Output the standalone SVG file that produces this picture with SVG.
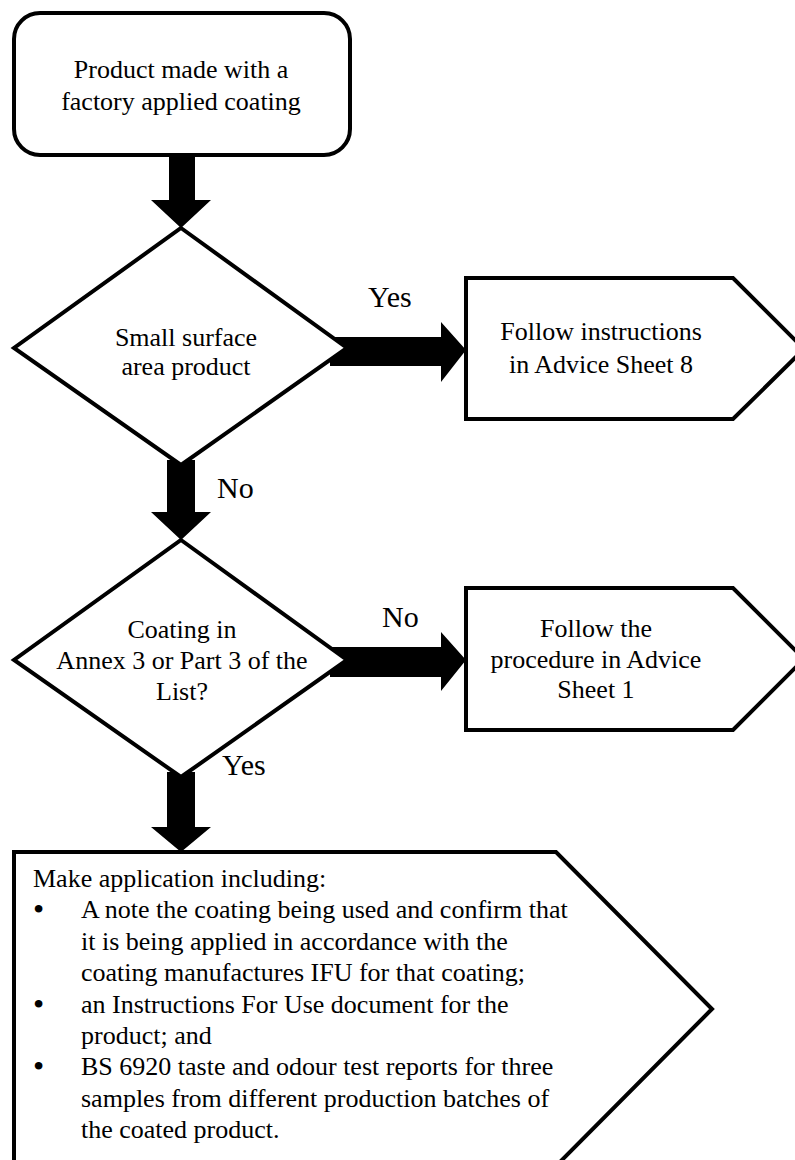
<svg xmlns="http://www.w3.org/2000/svg" width="795" height="1160" viewBox="0 0 795 1160">
<style>
.node{fill:#fff;stroke:#000;stroke-width:4;stroke-linejoin:miter}
.conn{fill:#000;stroke:none}
text{font-family:"Liberation Serif","Times New Roman",serif;font-size:26px;fill:#000}
.c{text-anchor:middle}
.lbl{font-size:30px}
.b{font-size:32px}
</style>
<rect width="795" height="1160" fill="#fff"/>
<g id="connectors">
<polygon class="conn" points="169,155 195,155 195,200 211,200 181,228 151,200 169,200"/>
<polygon class="conn" points="330,337 441,337 441,322 466,350 441,382 441,366 330,366"/>
<polygon class="conn" points="167,460 195,460 195,512 211,512 181,540 151,512 167,512"/>
<polygon class="conn" points="330,647 441,647 441,632 466,660 441,691 441,677 330,677"/>
<polygon class="conn" points="167,772 195,772 195,827 211,827 181,852 151,827 167,827"/>
</g>
<g id="start">
<rect class="node" x="14" y="13" width="336" height="142" rx="26" ry="26"/>
<text x="181" y="78" class="c">Product made with a</text>
<text x="181" y="110" class="c">factory applied coating</text>
</g>
<g id="decision1">
<polygon class="node" points="181,228 347,348 181,465 14,348"/>
<text x="186" y="346" class="c">Small surface</text>
<text x="186" y="375" class="c">area product</text>
</g>
<g id="advice8">
<polygon class="node" points="466,278 733,278 804,349 733,419 466,419"/>
<text x="601" y="340" class="c">Follow instructions</text>
<text x="601" y="373" class="c">in Advice Sheet 8</text>
</g>
<g id="decision2">
<polygon class="node" points="181,540 347,660 181,777 14,660"/>
<text x="182" y="638" class="c">Coating in</text>
<text x="182" y="669" class="c">Annex 3 or Part 3 of the</text>
<text x="182" y="700" class="c">List?</text>
</g>
<g id="advice1">
<polygon class="node" points="466,588 733,588 804,659 733,730 466,730"/>
<text x="596" y="637" class="c">Follow the</text>
<text x="596" y="668" class="c">procedure in Advice</text>
<text x="596" y="698" class="c">Sheet 1</text>
</g>
<g id="application">
<polygon class="node" points="14,852 556,852 712,1009 556,1166 14,1166"/>
<text x="33" y="887">Make application including:</text>
<text x="33" y="920" class="b">•</text>
<text x="81" y="918">A note the coating being used and confirm that</text>
<text x="81" y="950">it is being applied in accordance with the</text>
<text x="81" y="981">coating manufactures IFU for that coating;</text>
<text x="33" y="1015" class="b">•</text>
<text x="81" y="1013">an Instructions For Use document for the</text>
<text x="81" y="1044">product; and</text>
<text x="33" y="1077" class="b">•</text>
<text x="81" y="1075">BS 6920 taste and odour test reports for three</text>
<text x="81" y="1107">samples from different production batches of</text>
<text x="81" y="1138">the coated product.</text>
</g>
<g id="labels">
<text x="368" y="307" class="lbl">Yes</text>
<text x="217" y="498" class="lbl">No</text>
<text x="382" y="627" class="lbl">No</text>
<text x="222" y="775" class="lbl">Yes</text>
</g>
</svg>
